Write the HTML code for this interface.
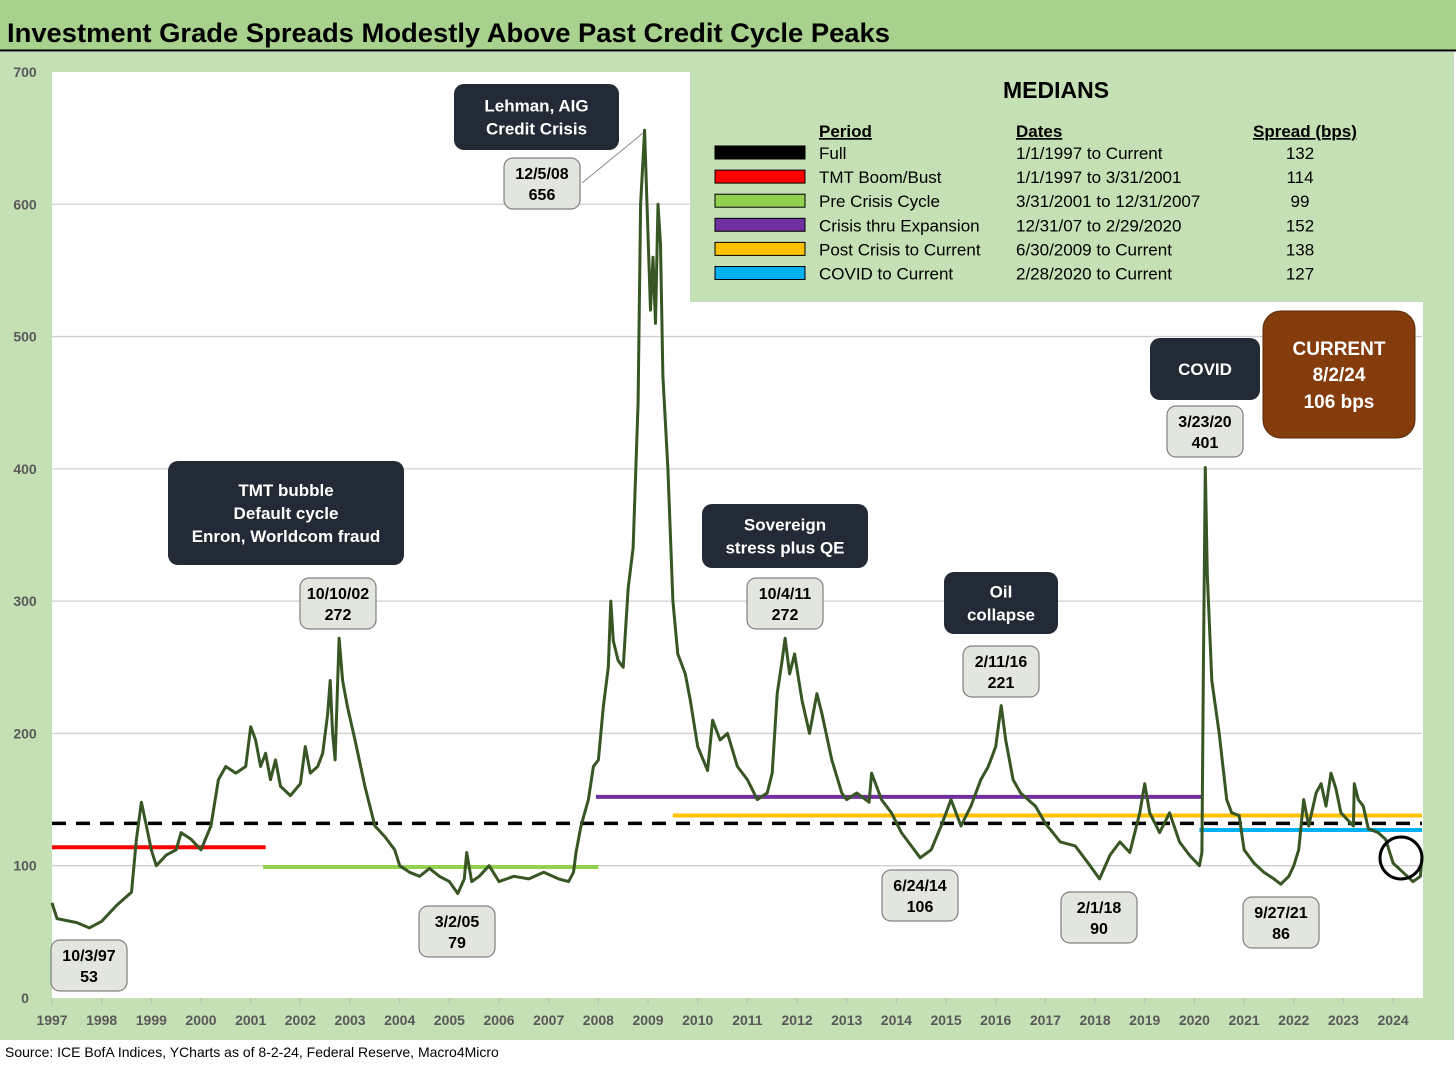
<!DOCTYPE html>
<html><head><meta charset="utf-8"><style>
body{margin:0;background:#fff}
svg{display:block;font-family:"Liberation Sans",sans-serif}
</style></head><body>
<svg width="1456" height="1065" viewBox="0 0 1456 1065">
<rect x="0" y="0" width="1456" height="1065" fill="#fff"/>
<rect x="0" y="52" width="1454" height="988" fill="#c5e0b4"/>
<rect x="0" y="0" width="1456" height="50" fill="#a9d18e"/>
<line x1="0" y1="50.5" x2="1456" y2="50.5" stroke="#000" stroke-width="2"/>
<text x="7" y="42" font-size="27" font-weight="bold" textLength="883" lengthAdjust="spacingAndGlyphs">Investment Grade Spreads Modestly Above Past Credit Cycle Peaks</text>
<rect x="52" y="72" width="1371" height="926" fill="#fff"/>
<g id="grid"></g>
<g id="yticks"></g>
<g id="xticks"></g>
<g id="medlines"></g>
<path id="series" fill="none" stroke="#375623" stroke-width="3" stroke-linejoin="round"/>
<rect x="690" y="72" width="733" height="230" fill="#c5e0b4"/>
<g id="medtable" font-size="17" fill="#000">
<text x="1056" y="98" font-size="23" font-weight="bold" text-anchor="middle">MEDIANS</text>
<text x="819" y="137" font-weight="bold" text-decoration="underline">Period</text>
<text x="1016" y="137" font-weight="bold" text-decoration="underline">Dates</text>
<text x="1253" y="137" font-weight="bold" text-decoration="underline">Spread (bps)</text>
</g>
<g id="notes"></g>
<rect x="1263" y="311" width="152" height="127" rx="18" fill="#843c0c" stroke="#5a2a08"/>
<text x="1339" y="355" fill="#fff" font-size="19" font-weight="bold" text-anchor="middle">CURRENT</text>
<text x="1339" y="381" fill="#fff" font-size="19" font-weight="bold" text-anchor="middle">8/2/24</text>
<text x="1339" y="408" fill="#fff" font-size="19" font-weight="bold" text-anchor="middle">106 bps</text>
<circle cx="1401" cy="858" r="21" fill="none" stroke="#000" stroke-width="3"/>
<line x1="582" y1="183" x2="643" y2="133" stroke="#888" stroke-width="1"/>
<text x="5" y="1057" font-size="14" fill="#000">Source: ICE BofA Indices, YCharts as of 8-2-24, Federal Reserve, Macro4Micro</text>
</svg>
<script>
const yTicks=[0,100,200,300,400,500,600,700];
const xYears=[1997,1998,1999,2000,2001,2002,2003,2004,2005,2006,2007,2008,2009,2010,2011,2012,2013,2014,2015,2016,2017,2018,2019,2020,2021,2022,2023,2024];
const seriesT=[1997.0,1997.1,1997.5,1997.75,1998.0,1998.3,1998.6,1998.7,1998.8,1998.9,1999.0,1999.1,1999.3,1999.5,1999.6,1999.8,2000.0,2000.2,2000.35,2000.5,2000.7,2000.9,2001.0,2001.1,2001.2,2001.3,2001.4,2001.5,2001.6,2001.8,2002.0,2002.1,2002.2,2002.35,2002.45,2002.55,2002.6,2002.65,2002.7,2002.78,2002.85,2002.95,2003.1,2003.3,2003.5,2003.7,2003.9,2004.0,2004.2,2004.4,2004.6,2004.8,2005.0,2005.17,2005.3,2005.35,2005.45,2005.6,2005.8,2006.0,2006.3,2006.6,2006.9,2007.2,2007.4,2007.5,2007.55,2007.65,2007.8,2007.9,2008.0,2008.1,2008.2,2008.25,2008.3,2008.4,2008.5,2008.6,2008.7,2008.8,2008.85,2008.93,2008.98,2009.05,2009.1,2009.15,2009.2,2009.25,2009.3,2009.4,2009.5,2009.6,2009.75,2009.85,2010.0,2010.2,2010.3,2010.45,2010.6,2010.8,2011.0,2011.2,2011.4,2011.5,2011.6,2011.7,2011.76,2011.85,2011.95,2012.1,2012.25,2012.4,2012.5,2012.7,2012.9,2013.0,2013.2,2013.45,2013.5,2013.7,2013.9,2014.1,2014.3,2014.48,2014.7,2014.9,2015.0,2015.1,2015.3,2015.5,2015.7,2015.85,2016.0,2016.11,2016.2,2016.35,2016.5,2016.8,2017.0,2017.3,2017.6,2017.9,2018.09,2018.3,2018.5,2018.7,2018.9,2019.0,2019.1,2019.3,2019.5,2019.7,2019.9,2020.1,2020.15,2020.18,2020.22,2020.26,2020.35,2020.5,2020.65,2020.75,2020.9,2021.0,2021.2,2021.4,2021.6,2021.74,2021.9,2022.0,2022.1,2022.2,2022.3,2022.45,2022.55,2022.65,2022.75,2022.85,2022.95,2023.2,2023.22,2023.3,2023.4,2023.5,2023.7,2023.85,2024.0,2024.2,2024.4,2024.55,2024.58];
const seriesV=[72,60,57,53,58,70,80,120,148,130,112,100,108,112,125,120,112,130,165,175,170,175,205,195,175,185,165,180,160,153,162,190,170,175,185,215,240,200,180,272,240,220,195,160,130,122,112,100,95,92,98,92,88,79,90,110,88,92,100,88,92,90,95,90,88,95,110,130,150,175,180,220,250,300,270,255,250,310,340,450,600,656,600,520,560,510,600,570,470,400,300,260,245,225,190,172,210,195,200,175,165,150,155,170,230,255,272,245,260,225,200,230,215,180,155,150,155,148,170,150,140,125,115,106,112,130,140,150,130,145,165,175,190,221,195,165,155,145,132,118,115,100,90,108,118,110,140,162,140,125,140,118,108,100,110,250,401,320,240,200,150,140,138,112,102,95,90,86,92,100,112,150,130,155,162,145,170,158,140,130,162,150,145,128,125,120,102,95,88,92,106];
const medNames=["Full","TMT Boom/Bust","Pre Crisis Cycle","Crisis thru Expansion","Post Crisis to Current","COVID to Current"];
const medDates=["1/1/1997 to Current","1/1/1997 to 3/31/2001","3/31/2001 to 12/31/2007","12/31/07 to 2/29/2020","6/30/2009 to Current","2/28/2020 to Current"];
const medValues=[132,114,99,152,138,127];
const medStart=[1997,1997,2001.25,2007.95,2009.5,2020.1];
const medEnd=[2024.6,2001.3,2008.0,2020.15,2024.6,2024.6];
const medColors=["#000","#ff0000","#92d050","#7030a0","#ffc000","#00b0f0"];
const NS="http://www.w3.org/2000/svg";
const X=t=>52+(t-1997)*49.67, Y=v=>998-v*1.3229;
const XMAX=1422;
function mk(tag,attrs,parent,txt){const e=document.createElementNS(NS,tag);for(const k in attrs)e.setAttribute(k,attrs[k]);if(txt!=null)e.textContent=txt;parent.appendChild(e);return e;}
const grid=document.getElementById('grid'),yt=document.getElementById('yticks'),xt=document.getElementById('xticks');
yTicks.forEach(v=>{
  if(v>0&&v<700){const l=mk('line',{x1:52,x2:1422,y1:Y(v),y2:Y(v),stroke:'#d0d0d0','stroke-width':1.3},grid);
  
  }
  const t=mk('text',{x:25,y:Y(v)+5,'font-size':14,'font-weight':'bold',fill:'#595959','text-anchor':'middle'},yt,String(v));
  
  
});
xYears.forEach(y=>{
  mk('line',{x1:X(y),x2:X(y),y1:998,y2:1004,stroke:'#bbb'},xt);
  const t=mk('text',{x:X(y),y:1025,'font-size':14,'font-weight':'bold',fill:'#595959','text-anchor':'middle'},xt,String(y));
  
  
});
let d='';seriesT.forEach((t,i)=>{d+=(i?'L':'M')+X(t).toFixed(1)+','+Y(seriesV[i]).toFixed(1);});
document.getElementById('series').setAttribute('d',d);
const ml=document.getElementById('medlines');
medValues.forEach((v,i)=>{
  const x2=medEnd[i]>=2024.6?XMAX:X(medEnd[i]);
  const a={x1:X(medStart[i]),x2:x2,y1:Y(v),y2:Y(v),stroke:medColors[i],'stroke-width':i==0?3.5:4};
  if(i==0)a['stroke-dasharray']='14,10';
  const l=mk('line',a,ml);
  
  
});
// median line order: draw full last on top
ml.appendChild(ml.firstChild);
const tb=document.getElementById('medtable');
medNames.forEach((n,i)=>{
  const y=153+i*24.1;
  const r=mk('rect',{x:715,y:y-7,width:90,height:13,fill:medColors[i],stroke:'#000','stroke-width':1},tb);
  
  
  const a=mk('text',{x:819,y:y+6},tb,n);
  
  
  mk('text',{x:1016,y:y+6},tb,medDates[i]);
  mk('text',{x:1300,y:y+6,'text-anchor':'middle'},tb,String(medValues[i]));
});
const notes=document.getElementById('notes');
function dark(x,y,w,h,lines,name){
  const g=mk('g',{},notes);
  
  
  mk('rect',{x:x,y:y,width:w,height:h,rx:10,fill:'#222a35'},g);
  const n=lines.length;lines.forEach((s,i)=>mk('text',{x:x+w/2,y:y+h/2+6+(i-(n-1)/2)*23,fill:'#fff','font-size':17,'font-weight':'bold','text-anchor':'middle'},g,s));
}
function light(cx,y,l1,l2,name){
  const g=mk('g',{},notes);
  
  
  mk('rect',{x:cx-38,y:y,width:76,height:51,rx:9,fill:'#e2e6df',stroke:'#7f7f7f','stroke-width':1.2},g);
  mk('text',{x:cx,y:y+21,'font-size':16,'font-weight':'bold','text-anchor':'middle'},g,l1);
  mk('text',{x:cx,y:y+42,'font-size':16,'font-weight':'bold','text-anchor':'middle'},g,l2);
}
dark(454,84,165,66,["Lehman, AIG","Credit Crisis"],'lehman-note');
dark(168,461,236,104,["TMT bubble","Default cycle","Enron, Worldcom fraud"],'tmt-note');
dark(702,504,166,64,["Sovereign","stress plus QE"],'sovereign-note');
dark(944,572,114,62,["Oil","collapse"],'oil-note');
dark(1150,338,110,62,["COVID"],'covid-note');
light(542,158,"12/5/08","656",'label-peak-2008');
light(338,578,"10/10/02","272",'label-peak-2002');
light(785,578,"10/4/11","272",'label-peak-2011');
light(1001,646,"2/11/16","221",'label-peak-2016');
light(1205,406,"3/23/20","401",'label-peak-2020');
light(89,940,"10/3/97","53",'label-low-1997');
light(457,906,"3/2/05","79",'label-low-2005');
light(920,870,"6/24/14","106",'label-low-2014');
light(1099,892,"2/1/18","90",'label-low-2018');
light(1281,897,"9/27/21","86",'label-low-2021');
</script>
</body></html>
